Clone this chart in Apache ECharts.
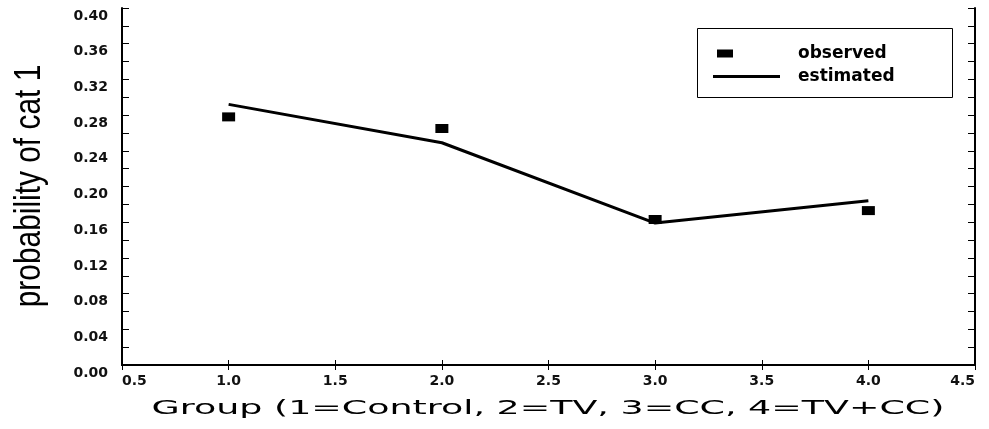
<!DOCTYPE html>
<html>
<head>
<meta charset="utf-8">
<script src="https://cdn.jsdelivr.net/npm/echarts@6/dist/echarts.min.js"></script>
<style>
  html, body { margin: 0; padding: 0; background: #fff; }
  #chart { width: 989px; height: 429px; }
</style>
</head>
<body>
<div id="chart"></div>
<script>
// group number on the x axis
const groups = [1, 2, 3, 4]
// observed proportion (square markers)
const observed = [0.278, 0.265, 0.163, 0.173]
// model estimate (solid line)
const estimated = [0.292, 0.249, 0.159, 0.184]

const xTitle = 'Group (1=Control, 2=TV, 3=CC, 4=TV+CC)'
const yTitle = 'probability of cat 1'

const chart = echarts.init(document.getElementById('chart'))

const tickFont = {
  fontFamily: 'DejaVu Sans',
  fontWeight: 'bold',
  fontSize: 14,
  color: '#111'
}

const legendFont = {
  fontFamily: 'DejaVu Sans',
  fontWeight: 'bold',
  fontSize: 17,
  lineHeight: 16,
  color: '#000'
}

const xBase = {
  type: 'value',
  min: 0.5,
  max: 4.5,
  interval: 0.5,
  axisLine: { lineStyle: { color: '#000', width: 2 } },
  axisTick: { inside: true, length: 5, lineStyle: { color: '#000', width: 1 } },
  splitLine: { show: false }
}

const yBase = {
  type: 'value',
  min: 0,
  max: 0.4,
  interval: 0.04,
  axisLine: { show: true, lineStyle: { color: '#000', width: 2 } },
  axisTick: { show: true, inside: true, length: 7, lineStyle: { color: '#000', width: 1 } },
  minorTick: { show: true, splitNumber: 2, length: 7, lineStyle: { color: '#000', width: 1 } },
  splitLine: { show: false }
}

chart.setOption({
  animation: false,
  backgroundColor: '#fff',
  grid: { left: 122, right: 14, top: 8, bottom: 64 },
  legend: [{
    data: ['observed'],
    left: 717,
    top: 45,
    padding: 0,
    itemWidth: 16,
    itemHeight: 8,
    selectedMode: false,
    textStyle: Object.assign({}, legendFont, { padding: [0, 0, 0, 60] })
  }, {
    data: [{ name: 'estimated', icon: 'path://M0,0L67,0L67,3L0,3Z' }],
    left: 713,
    top: 68,
    padding: 0,
    itemWidth: 67,
    itemHeight: 3,
    selectedMode: false,
    textStyle: Object.assign({}, legendFont, { padding: [0, 0, 0, 13] })
  }],
  graphic: [{
    // legend frame
    type: 'rect',
    shape: { x: 697.5, y: 28.5, width: 255, height: 69 },
    style: { fill: 'none', stroke: '#000', lineWidth: 1 },
    z: 100
  }, {
    type: 'text',
    x: 548,
    y: 409,
    scaleX: 1.82,
    style: {
      text: xTitle,
      fontFamily: 'DejaVu Sans',
      fontSize: 20,
      fill: '#000',
      align: 'center',
      verticalAlign: 'middle'
    }
  }, {
    type: 'text',
    x: 30,
    y: 186,
    rotation: Math.PI / 2,
    scaleX: 0.83,
    style: {
      text: yTitle,
      fontFamily: 'Liberation Sans',
      fontSize: 36,
      fill: '#000',
      align: 'center',
      verticalAlign: 'middle'
    }
  }],
  xAxis: [
    Object.assign({}, xBase, {
      position: 'bottom',
      axisLabel: Object.assign({}, tickFont, {
        margin: 9,
        alignMinLabel: 'left',
        alignMaxLabel: 'right',
        formatter: v => v.toFixed(1)
      })
    }),
    Object.assign({}, xBase, {
      position: 'top',
      axisLabel: { show: false }
    })
  ],
  yAxis: [
    Object.assign({}, yBase, {
      position: 'left',
      axisLabel: Object.assign({}, tickFont, {
        margin: 14,
        verticalAlign: 'top',
        padding: [1, 0, 0, 0],
        formatter: v => v.toFixed(2)
      })
    }),
    Object.assign({}, yBase, {
      position: 'right',
      axisLabel: { show: false }
    })
  ],
  series: [{
    name: 'observed',
    type: 'scatter',
    symbol: 'rect',
    symbolSize: [13, 9],
    itemStyle: { color: '#000', opacity: 1 },
    data: groups.map((g, i) => [g, observed[i]]),
    z: 3
  }, {
    name: 'estimated',
    type: 'line',
    symbol: 'none',
    lineStyle: { color: '#000', width: 3 },
    itemStyle: { color: '#000' },
    data: groups.map((g, i) => [g, estimated[i]]),
    z: 2
  }]
})
</script>
</body>
</html>
